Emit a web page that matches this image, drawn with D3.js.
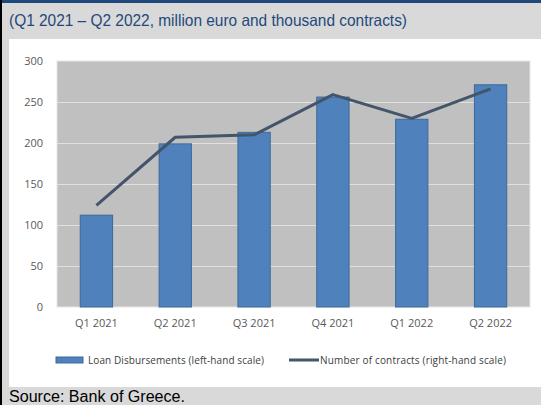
<!DOCTYPE html>
<html>
<head>
<meta charset="utf-8">
<script src="https://cdn.jsdelivr.net/npm/d3@7"></script>
<style>
  html, body { margin: 0; padding: 0; background: #d9d9d9; }
  svg { display: block; }
</style>
</head>
<body>
<svg id="chart" width="541" height="405"></svg>
<script>
// Quarterly loan disbursements (million euro) and number of contracts (thousand)
const quarters = ["Q1 2021", "Q2 2021", "Q3 2021", "Q4 2021", "Q1 2022", "Q2 2022"];
const disbursements = [112, 199, 213, 256, 229, 271];
const contracts = [124, 207, 210, 259, 230, 266];
const leftTicks = [0, 50, 100, 150, 200, 250, 300];

const titleText = "(Q1 2021 \u2013 Q2 2022, million euro and thousand contracts)";
const sourceText = "Source: Bank of Greece.";
const legendLabels = ["Loan Disbursements (left-hand scale)", "Number of contracts (right-hand scale)"];

const svg = d3.select("#chart");
const W = 541, H = 405;

// frame: grey page, dark blue top rule, black left rule, white chart panel
svg.append("rect").attr("x", 0).attr("y", 0).attr("width", W).attr("height", H).attr("fill", "#d9d9d9");
svg.append("rect").attr("x", 0).attr("y", 0).attr("width", W).attr("height", 3).attr("fill", "#1f497d");
svg.append("rect").attr("x", 0).attr("y", 0).attr("width", 2).attr("height", H).attr("fill", "#000");
svg.append("rect").attr("x", 9).attr("y", 39).attr("width", W - 9).attr("height", 348).attr("fill", "#fff");

svg.append("text")
  .attr("x", 9).attr("y", 26)
  .attr("font-family", "'Liberation Sans', Arial, sans-serif")
  .attr("font-size", 16.5)
  .attr("fill", "#1f497d")
  .attr("textLength", 398).attr("lengthAdjust", "spacingAndGlyphs")
  .text(titleText);

svg.append("text")
  .attr("x", 9).attr("y", 402)
  .attr("font-family", "'Liberation Sans', Arial, sans-serif")
  .attr("font-size", 16)
  .attr("fill", "#000")
  .attr("textLength", 176).attr("lengthAdjust", "spacingAndGlyphs")
  .text(sourceText);

// plot area
const plot = { left: 57, right: 530, top: 61, bottom: 307 };

const x = d3.scaleBand().domain(quarters).range([plot.left, plot.right]).paddingInner(0.59).paddingOuter(0.295);
const y = d3.scaleLinear().domain([0, 300]).range([plot.bottom, plot.top]);
// right-hand scale for contracts (not drawn)
const yRight = d3.scaleLinear().domain([0, 300]).range([plot.bottom, plot.top]);

svg.append("rect")
  .attr("x", plot.left).attr("y", plot.top)
  .attr("width", plot.right - plot.left).attr("height", plot.bottom - plot.top)
  .attr("fill", "#c0c0c0")
  .attr("stroke", "#e6e6e6").attr("stroke-width", 1);

// gridlines
svg.append("g")
  .selectAll("line")
  .data(leftTicks.filter(t => t > 0 && t < 300))
  .join("line")
  .attr("x1", plot.left).attr("x2", plot.right)
  .attr("y1", d => Math.round(y(d)) + 0.5).attr("y2", d => Math.round(y(d)) + 0.5)
  .attr("stroke", "#e0e0e0").attr("stroke-width", 1);

// left axis
const yAxis = svg.append("g")
  .attr("transform", `translate(${plot.left},0)`)
  .call(d3.axisLeft(y).tickValues(leftTicks).tickSize(0).tickPadding(14));
yAxis.select(".domain").remove();
yAxis.selectAll("text")
  .attr("font-family", "'Open Sans', 'DejaVu Sans', sans-serif")
  .attr("font-size", 11)
  .attr("fill", "#595959");

// x axis
const xAxis = svg.append("g")
  .attr("transform", `translate(0,${plot.bottom})`)
  .call(d3.axisBottom(x).tickSize(0).tickPadding(12));
xAxis.select(".domain").remove();
xAxis.selectAll("text")
  .attr("font-family", "'Open Sans', 'DejaVu Sans', sans-serif")
  .attr("font-size", 11)
  .attr("fill", "#595959");

// bars
svg.append("g")
  .selectAll("rect")
  .data(quarters.map((q, i) => ({ q, v: disbursements[i] })))
  .join("rect")
  .attr("x", d => x(d.q))
  .attr("y", d => y(d.v))
  .attr("width", x.bandwidth())
  .attr("height", d => y(0) - y(d.v))
  .attr("fill", "#4f81bd")
  .attr("stroke", "#3c6a9a").attr("stroke-width", 1);

// contracts line
const line = d3.line()
  .x((d, i) => x(quarters[i]) + x.bandwidth() / 2)
  .y(d => yRight(d));
svg.append("path")
  .datum(contracts)
  .attr("d", line)
  .attr("fill", "none")
  .attr("stroke", "#44546a")
  .attr("stroke-width", 3)
  .attr("stroke-linejoin", "round");

// legend
const lg = svg.append("g").attr("font-family", "'Open Sans', 'DejaVu Sans', sans-serif").attr("font-size", 10).attr("fill", "#404040");
lg.append("rect").attr("x", 56).attr("y", 357).attr("width", 27).attr("height", 6)
  .attr("fill", "#4f81bd").attr("stroke", "#3c6a9a").attr("stroke-width", 1);
lg.append("text").attr("x", 88).attr("y", 363.5)
  .attr("textLength", 176).attr("lengthAdjust", "spacing")
  .text(legendLabels[0]);
lg.append("line").attr("x1", 289).attr("x2", 319).attr("y1", 360).attr("y2", 360)
  .attr("stroke", "#44546a").attr("stroke-width", 3);
lg.append("text").attr("x", 320).attr("y", 363.5)
  .attr("textLength", 186).attr("lengthAdjust", "spacing")
  .text(legendLabels[1]);
</script>
</body>
</html>
